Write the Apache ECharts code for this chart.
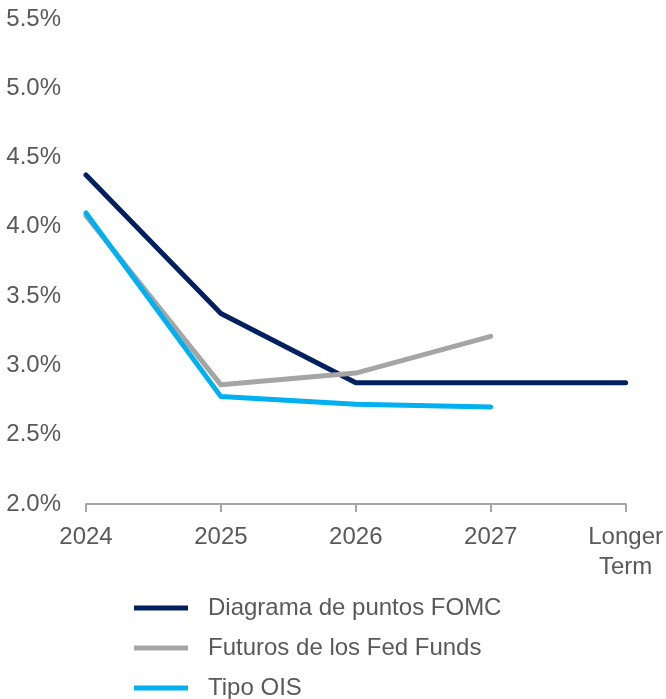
<!DOCTYPE html>
<html>
<head>
<meta charset="utf-8">
<script src="https://cdn.jsdelivr.net/npm/echarts@6/dist/echarts.min.js"></script>
<style>
  html, body { margin: 0; padding: 0; background: #fff; }
  #main { width: 666px; height: 699px; }
</style>
</head>
<body>
<div id="main"></div>
<script>
// categorias y series
var years = ['2024', '2025', '2026', '2027', 'Longer\nTerm'];
var fomcDots = [4.375, 3.375, 2.875, 2.875, 2.875];
var fedFunds = [4.08, 2.86, 2.945, 3.21, null];
var oisRate = [4.10, 2.775, 2.72, 2.70, null];

var seriesNames = ['Diagrama de puntos FOMC', 'Futuros de los Fed Funds', 'Tipo OIS'];
var colors = ['#002060', '#a5a5a5', '#00b0f0'];

var myChart = echarts.init(document.getElementById('main'));

function lineSeries(name, data, color) {
  return {
    name: name,
    type: 'line',
    data: data,
    symbol: 'none',
    lineStyle: { width: 5, color: color, cap: 'round', join: 'round' },
    itemStyle: { color: color },
    emphasis: { disabled: true }
  };
}

var option = {
  animation: false,
  textStyle: { fontFamily: 'Liberation Sans' },
  grid: { left: 86, right: 40, top: 19, bottom: 195 },
  legend: {
    orient: 'vertical',
    left: 134,
    top: 596,
    height: 110,
    padding: 0,
    icon: 'rect',
    itemWidth: 54,
    itemHeight: 5,
    itemGap: 16,
    data: seriesNames,
    textStyle: {
      fontSize: 24,
      color: '#595959',
      lineHeight: 24,
      padding: [0, 0, 0, 15]
    }
  },
  xAxis: {
    type: 'category',
    data: years,
    boundaryGap: false,
    axisLine: { lineStyle: { color: '#a6a6a6', width: 2 } },
    axisTick: { show: true, length: 8, lineStyle: { color: '#a6a6a6', width: 2 } },
    axisLabel: { fontSize: 24, color: '#595959', margin: 18, lineHeight: 30, interval: 0 }
  },
  yAxis: {
    type: 'value',
    min: 2.0,
    max: 5.5,
    interval: 0.5,
    axisLine: { show: false },
    axisTick: { show: false },
    splitLine: { show: false },
    axisLabel: {
      fontSize: 24,
      color: '#595959',
      margin: 25,
      formatter: function (v) { return v.toFixed(1) + '%'; }
    }
  },
  series: [
    lineSeries(seriesNames[0], fomcDots, colors[0]),
    lineSeries(seriesNames[1], fedFunds, colors[1]),
    lineSeries(seriesNames[2], oisRate, colors[2])
  ]
};

myChart.setOption(option);
</script>
</body>
</html>
